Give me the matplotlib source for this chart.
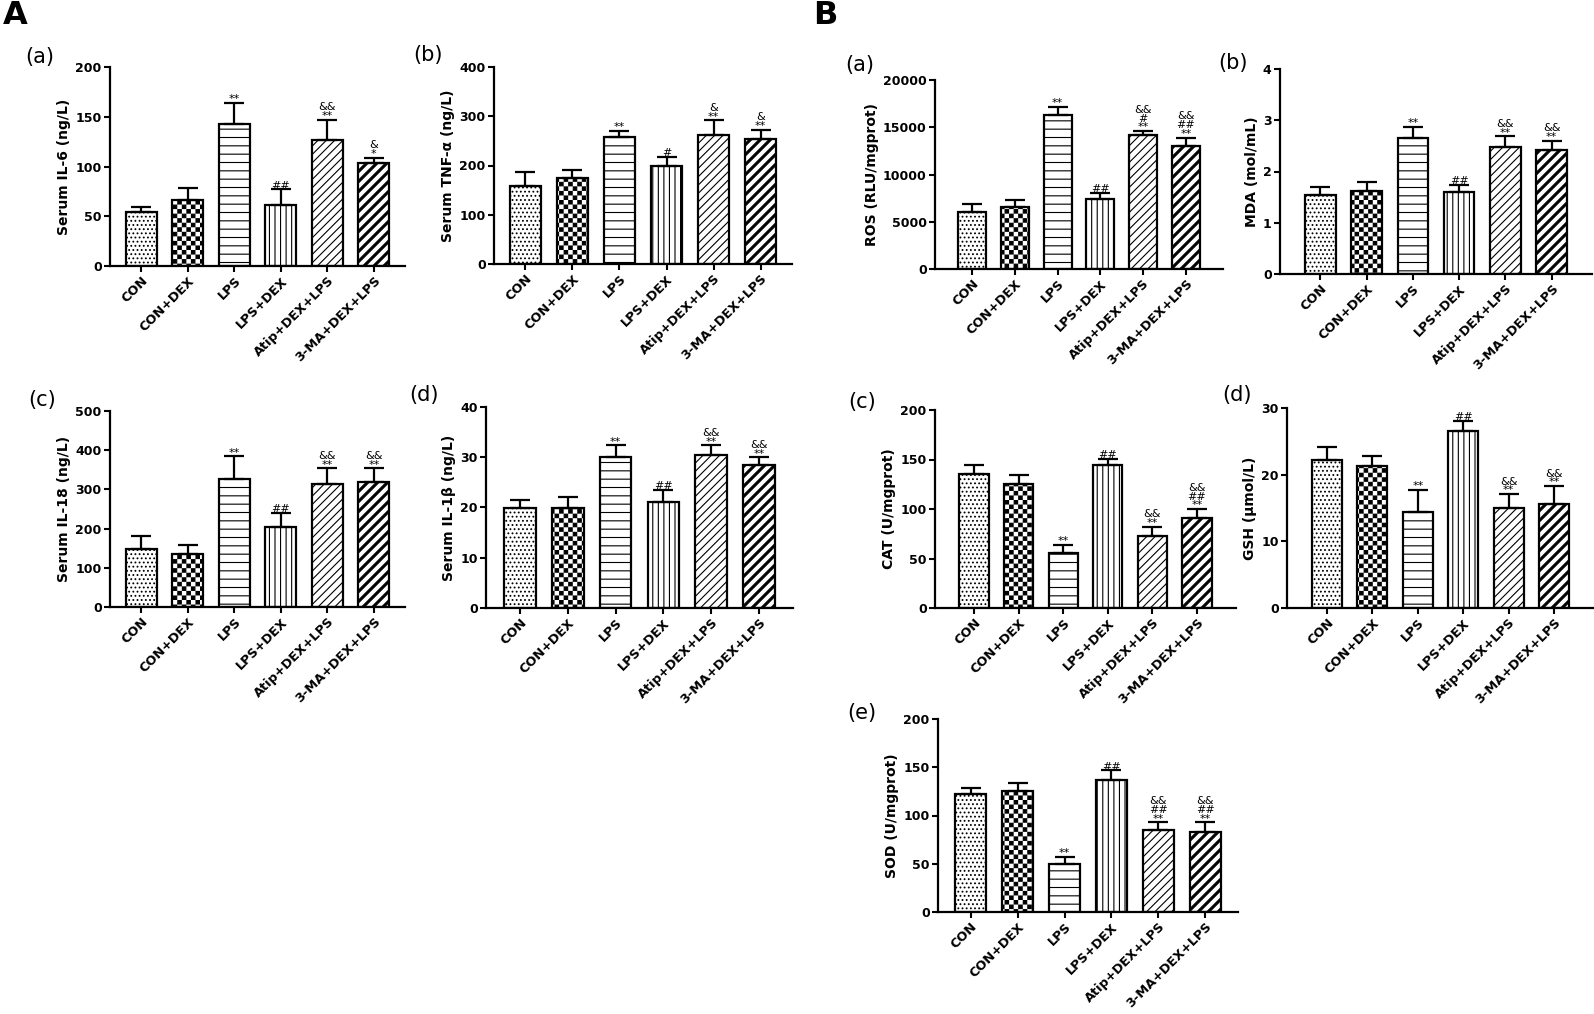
import numpy as np
import matplotlib as mpl
mpl.use('Agg')
from matplotlib import pyplot as plt
import matplotlib.hatch as mhatch
from matplotlib.path import Path

mpl.rcParams['font.family'] = 'DejaVu Sans'
mpl.rcParams['hatch.linewidth'] = 0.8

groups = ['CON', 'CON+DEX', 'LPS', 'LPS+DEX', 'Atip+DEX+LPS', '3-MA+DEX+LPS']

# A: serum cytokines
il6 = [54, 66, 143, 61, 127, 104]
il6_err = [5, 12, 21, 16, 20, 5]
il6_sig = ['', '', '**', '##', '&&\n**', '&\n*']

tnf = [158, 175, 257, 198, 261, 254]
tnf_err = [29, 16, 14, 20, 31, 19]
tnf_sig = ['', '', '**', '#', '&\n**', '&\n**']

il18 = [148, 136, 327, 203, 315, 318]
il18_err = [34, 22, 57, 37, 39, 36]
il18_sig = ['', '', '**', '##', '&&\n**', '&&\n**']

il1b = [19.9, 19.9, 30.0, 21.1, 30.4, 28.4]
il1b_err = [1.5, 2.1, 2.4, 2.4, 2.0, 1.6]
il1b_sig = ['', '', '**', '##', '&&\n**', '&&\n**']

# B: oxidative stress
ros = [6020, 6550, 16300, 7430, 14190, 13030]
ros_err = [810, 700, 880, 630, 420, 880]
ros_sig = ['', '', '**', '##', '&&\n#\n**', '&&\n##\n**']

mda = [1.55, 1.62, 2.65, 1.60, 2.48, 2.41]
mda_err = [0.14, 0.18, 0.22, 0.14, 0.21, 0.19]
mda_sig = ['', '', '**', '##', '&&\n**', '&&\n**']

cat = [135, 125.5, 56, 144, 73, 91]
cat_err = [9, 9, 8, 7, 9, 9]
cat_sig = ['', '', '**', '##', '&&\n**', '&&\n##\n**']

gsh = [22.2, 21.3, 14.45, 26.5, 15.05, 15.65]
gsh_err = [2.0, 1.5, 3.25, 1.55, 2.05, 2.65]
gsh_sig = ['', '', '**', '##', '&&\n**', '&&\n**']

sod = [121.8, 125.9, 49.4, 137, 84.6, 82.9]
sod_err = [6.8, 8.1, 8.1, 9.9, 8.4, 10.1]
sod_sig = ['', '', '**', '##', '&&\n##\n**', '&&\n##\n**']


# custom hatches: 'O' -> checkerboard, '*' -> thick diagonal bands
class CheckerHatch(mhatch.HatchPatternBase):
    def __init__(self, hatch, density):
        self.n = 22 if 'O' in hatch else 0
        self.num_vertices = (self.n * self.n // 2) * 5

    def set_vertices_and_codes(self, vertices, codes):
        s = 1.0 / self.n
        p = 0.12 * s
        sq = np.array([[p, p], [s - p, p], [s - p, s - p], [p, s - p], [p, p]])
        parts = [sq + [i * s, j * s] for i in range(self.n)
                 for j in range(self.n) if (i + j) % 2 == 0]
        vertices[:] = np.concatenate(parts)
        codes[:] = np.tile([Path.MOVETO, Path.LINETO, Path.LINETO,
                            Path.LINETO, Path.CLOSEPOLY], len(parts))


class BandHatch(mhatch.HatchPatternBase):
    def __init__(self, hatch, density):
        self.n = 5 * hatch.count('*')
        self.num_vertices = (2 * self.n + 1) * 5 if self.n else 0

    def set_vertices_and_codes(self, vertices, codes):
        w = 0.14 / self.n
        parts = []
        for c in np.linspace(-1, 1, 2 * self.n + 1):
            parts.append([[-0.5, -0.5 + c - w], [1.5, 1.5 + c - w],
                          [1.5, 1.5 + c + w], [-0.5, -0.5 + c + w],
                          [-0.5, -0.5 + c - w]])
        vertices[:] = np.concatenate(parts)
        codes[:] = np.tile([Path.MOVETO, Path.LINETO, Path.LINETO,
                            Path.LINETO, Path.CLOSEPOLY], len(parts))


for k, t in enumerate(mhatch._hatch_types):
    if t is mhatch.LargeCircles:
        mhatch._hatch_types[k] = CheckerHatch
    elif t is mhatch.Stars:
        mhatch._hatch_types[k] = BandHatch

hatches = ['....', 'O', '--', '|||', '////', '**']

W, H = 1594, 1014
fig = plt.figure(figsize=(W / 100, H / 100), dpi=100)


def panel(box, margin, vals, errs, sig, ymax, step, ylabel, tag, tagpos):
    l, r, t, b = box
    ax = fig.add_axes([l / W, 1 - b / H, (r - l) / W, (b - t) / H])
    x = np.arange(len(groups))
    bars = ax.bar(x, vals, width=0.66, color='white', edgecolor='black',
                  linewidth=1.6, zorder=2)
    for bar, h in zip(bars, hatches):
        bar.set_hatch(h)
    ax.errorbar(x, vals, yerr=[np.zeros(len(errs)), errs], fmt='none',
                ecolor='black', elinewidth=1.6, capsize=7, capthick=1.6,
                zorder=3)
    for xi, v, e, s in zip(x, vals, errs, sig):
        if s:
            ax.annotate(s, xy=(xi, v + e), xytext=(0, -1),
                        textcoords='offset points', ha='center',
                        va='bottom', fontsize=8, linespacing=0.85)
    ax.set_xlim(-0.33 - margin, 5.33 + margin)
    ax.set_ylim(0, ymax)
    ax.set_yticks(np.arange(0, ymax + step / 2, step))
    ax.set_xticks(x)
    ax.set_xticklabels(groups, rotation=45, ha='right',
                       rotation_mode='anchor', fontsize=9.3,
                       fontweight='bold')
    for lab in ax.get_yticklabels():
        lab.set_fontweight('bold')
        lab.set_fontsize(9)
    ax.spines['top'].set_visible(False)
    ax.spines['right'].set_visible(False)
    ax.spines['left'].set_linewidth(1.6)
    ax.spines['bottom'].set_linewidth(1.6)
    ax.tick_params(direction='out', length=4, width=1.5, pad=2)
    ax.set_ylabel(ylabel, fontsize=10, fontweight='bold', labelpad=3)
    fig.text(tagpos[0] / W, 1 - tagpos[1] / H, tag, fontsize=15,
             ha='center', va='center')
    return ax


panel((110, 405, 67, 266), 0.34, il6, il6_err, il6_sig, 200, 50,
      'Serum IL-6 (ng/L)', '(a)', (40, 57))
panel((494, 792, 67, 264), 0.34, tnf, tnf_err, tnf_sig, 400, 100,
      'Serum TNF-α (ng/L)', '(b)', (428, 55))
panel((110, 405, 411, 607), 0.34, il18, il18_err, il18_sig, 500, 100,
      'Serum IL-18 (ng/L)', '(c)', (42, 400))
panel((486, 793, 407, 608), 0.38, il1b, il1b_err, il1b_sig, 40, 10,
      'Serum IL-1β (ng/L)', '(d)', (424, 395))

panel((935, 1223, 80, 269), 0.54, ros, ros_err, ros_sig, 20000, 5000,
      'ROS (RLU/mgprot)', '(a)', (860, 65))
panel((1280, 1592, 69, 274), 0.54, mda, mda_err, mda_sig, 4, 1,
      'MDA (mol/mL)', '(b)', (1233, 63))
panel((935, 1236, 410, 608), 0.55, cat, cat_err, cat_sig, 200, 50,
      'CAT (U/mgprot)', '(c)', (862, 402))
panel((1287, 1594, 408, 608), 0.55, gsh, gsh_err, gsh_sig, 30, 10,
      'GSH (μmol/L)', '(d)', (1237, 395))
panel((938, 1238, 719, 912), 0.37, sod, sod_err, sod_sig, 200, 50,
      'SOD (U/mgprot)', '(e)', (862, 713))

fig.text(15 / W, 1 - 16 / H, 'A', fontsize=23, fontweight='bold',
         ha='center', va='center')
fig.text(825 / W, 1 - 16 / H, 'B', fontsize=23, fontweight='bold',
         ha='center', va='center')

fig.savefig('out.png', dpi=100)
